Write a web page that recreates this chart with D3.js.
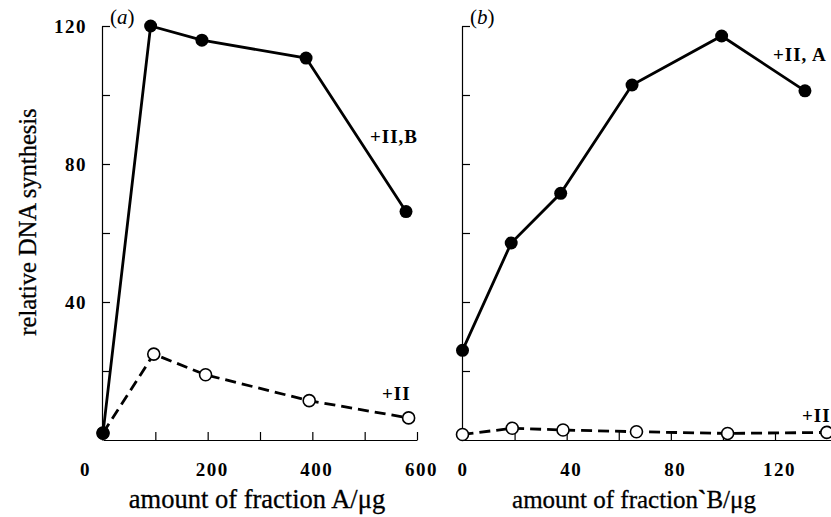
<!DOCTYPE html>
<html lang="en">
<head>
<meta charset="UTF-8">
<title>relative DNA synthesis</title>
<style>
  body { margin: 0; background: #fff; }
  svg, svg text { font-family: "Liberation Serif", "Times New Roman", serif; }
  .tick text { font-weight: bold; font-size: 19px; letter-spacing: 1.5px; fill: #000; }
  .domain, .tick line { stroke: #000; stroke-width: 1.2; }
  .lbl { font-weight: bold; font-size: 19px; letter-spacing: 1px; }
  .title { font-size: 26.5px; stroke: #000; stroke-width: 0.3; }
  .ytitle { font-size: 24.5px; stroke: #000; stroke-width: 0.3; }
</style>
</head>
<body>
<script src="https://d3js.org/d3.v7.min.js"></script>
<script>
// panel (a): amount of fraction A
const aSolidX = [0, 91, 189, 388, 579];
const aSolidY = [2, 120, 115.9, 110.7, 66.2];
const aDashX = [0, 97, 196, 394, 584];
const aDashY = [2, 24.9, 18.9, 11.4, 6.4];
const aXTicks = [0, 100, 200, 300, 400, 500, 600];
const aXLabels = [0, 200, 400, 600];

// panel (b): amount of fraction B
const bSolidX = [0, 18.7, 37.7, 65.1, 99.5, 131.5];
const bSolidY = [26, 57.1, 71.5, 102.9, 117.1, 101.2];
const bDashX = [0, 19.1, 38.6, 66.8, 101.8, 139.9];
const bDashY = [1.6, 3.4, 2.9, 2.4, 1.9, 2.2];
const bXTicks = [0, 20, 40, 60, 80, 100, 120];
const bXLabels = [0, 40, 80, 120];

const yTicks = [20, 40, 60, 80, 100, 120];
const yLabels = [40, 80, 120];

const W = 831, H = 517;
const svg = d3.select("body").append("svg").attr("width", W).attr("height", H);

const y = d3.scaleLinear().domain([0, 120]).range([440, 26]);

function panel(opt) {
  const g = svg.append("g");
  const x = d3.scaleLinear().domain(opt.xDomain).range(opt.xRange);

  // axes, ticks point inward
  const xAxis = d3.axisBottom(x).tickValues(opt.xTicks).tickSizeInner(-8).tickSizeOuter(0)
    .tickPadding(23).tickFormat(d => opt.xLabels.includes(d) ? d : "");
  const gx = g.append("g").attr("transform", "translate(0,440)").call(xAxis);
  gx.selectAll(".tick text").attr("dx", d => d === 0 ? opt.zeroShift : 4);

  const yAxis = d3.axisLeft(y).tickValues(yTicks).tickSizeInner(-8).tickSizeOuter(0)
    .tickPadding(15).tickFormat(d => opt.yLabels.includes(d) ? d : "");
  g.append("g").attr("transform", `translate(${opt.yAxisX},0)`).call(yAxis);

  const line = d3.line().x(d => x(d[0])).y(d => y(d[1]));
  const dash = d3.zip(opt.dashX, opt.dashY);
  const solid = d3.zip(opt.solidX, opt.solidY);

  g.append("path").attr("d", line(dash)).attr("fill", "none")
    .attr("stroke", "#000").attr("stroke-width", 2.8).attr("stroke-dasharray", "11,6");
  g.selectAll(".open").data(dash).join("circle")
    .attr("cx", d => x(d[0])).attr("cy", d => y(d[1])).attr("r", 6)
    .attr("fill", "#fff").attr("stroke", "#000").attr("stroke-width", 1.6);

  g.append("path").attr("d", line(solid)).attr("fill", "none")
    .attr("stroke", "#000").attr("stroke-width", 2.8);
  g.selectAll(".filled").data(solid).join("circle")
    .attr("cx", d => x(d[0])).attr("cy", d => y(d[1])).attr("r", 6.5).attr("fill", "#000");

  g.append("text").attr("x", opt.yAxisX + 8).attr("y", 24).attr("font-size", 21)
    .html(`(<tspan font-style="italic">${opt.letter}</tspan>)`);

  opt.labels.forEach(l => {
    g.append("text").attr("class", "lbl").attr("x", l[0]).attr("y", l[1]).text(l[2]);
  });

  g.append("text").attr("class", "title").attr("text-anchor", "middle")
    .attr("x", opt.titleX).attr("y", 508).style("font-size", opt.titleSize + "px").html(opt.title);
}

panel({
  xDomain: [0, 600], xRange: [103, 417], yAxisX: 102, zeroShift: -18,
  xTicks: aXTicks, xLabels: aXLabels, yLabels: yLabels,
  solidX: aSolidX, solidY: aSolidY, dashX: aDashX, dashY: aDashY,
  letter: "a", titleX: 257, titleSize: 26.5, title: "amount of fraction A/μg",
  labels: [[370, 143, "+II,B"], [382, 400, "+II"]]
});

panel({
  xDomain: [0, 141.5], xRange: [462.5, 831], yAxisX: 462, zeroShift: 0,
  xTicks: bXTicks, xLabels: bXLabels, yLabels: [],
  solidX: bSolidX, solidY: bSolidY, dashX: bDashX, dashY: bDashY,
  letter: "b", titleX: 634, titleSize: 25,
  title: "amount of fraction<tspan font-weight=\"bold\">`</tspan>B/μg",
  labels: [[773, 61, "+II, A"], [802, 422, "+II"]]
});

svg.append("text").attr("class", "ytitle").attr("text-anchor", "middle")
  .attr("transform", "translate(36,222) rotate(-90)").text("relative DNA synthesis");
</script>
</body>
</html>
